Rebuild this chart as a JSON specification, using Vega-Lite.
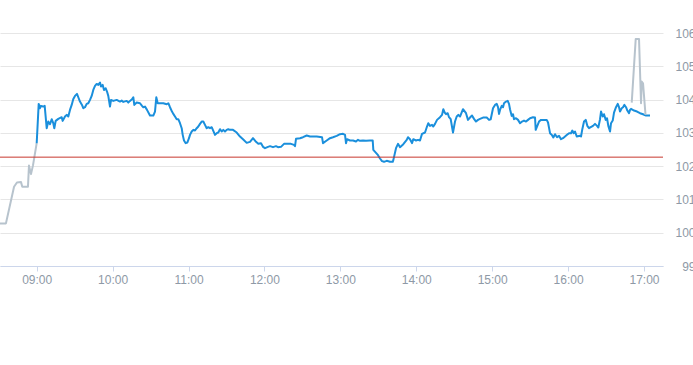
{
  "width": 663,
  "height": 233,
  "autosize": {"type": "none"},
  "padding": {"left": 0, "top": 33, "right": 30, "bottom": 99},
  "background": "#ffffff",
  "config": {"view": {"stroke": null}, "font": "Liberation Sans"},
  "datasets": {
    "prices": [
      {"t": "2024-01-02T08:31:00Z", "price": 100.28, "session": "pre"},
      {"t": "2024-01-02T08:35:42Z", "price": 100.28, "session": "pre"},
      {"t": "2024-01-02T08:42:06Z", "price": 101.38, "session": "pre"},
      {"t": "2024-01-02T08:44:24Z", "price": 101.51, "session": "pre"},
      {"t": "2024-01-02T08:47:36Z", "price": 101.52, "session": "pre"},
      {"t": "2024-01-02T08:48:36Z", "price": 101.38, "session": "pre"},
      {"t": "2024-01-02T08:53:06Z", "price": 101.38, "session": "pre"},
      {"t": "2024-01-02T08:53:54Z", "price": 102.02, "session": "pre"},
      {"t": "2024-01-02T08:55:30Z", "price": 101.76, "session": "pre"},
      {"t": "2024-01-02T08:57:06Z", "price": 102.03, "session": "pre"},
      {"t": "2024-01-02T09:00:00Z", "price": 102.69, "session": "pre"},
      {"t": "2024-01-02T09:00:00Z", "price": 102.69, "session": "regular"},
      {"t": "2024-01-02T09:01:35Z", "price": 103.87, "session": "regular"},
      {"t": "2024-01-02T09:02:37Z", "price": 103.74, "session": "regular"},
      {"t": "2024-01-02T09:03:24Z", "price": 103.81, "session": "regular"},
      {"t": "2024-01-02T09:04:59Z", "price": 103.79, "session": "regular"},
      {"t": "2024-01-02T09:06:19Z", "price": 103.81, "session": "regular"},
      {"t": "2024-01-02T09:07:54Z", "price": 103.14, "session": "regular"},
      {"t": "2024-01-02T09:09:10Z", "price": 103.34, "session": "regular"},
      {"t": "2024-01-02T09:10:31Z", "price": 103.26, "session": "regular"},
      {"t": "2024-01-02T09:11:51Z", "price": 103.41, "session": "regular"},
      {"t": "2024-01-02T09:13:07Z", "price": 103.29, "session": "regular"},
      {"t": "2024-01-02T09:13:55Z", "price": 103.14, "session": "regular"},
      {"t": "2024-01-02T09:15:01Z", "price": 103.36, "session": "regular"},
      {"t": "2024-01-02T09:17:04Z", "price": 103.42, "session": "regular"},
      {"t": "2024-01-02T09:19:46Z", "price": 103.47, "session": "regular"},
      {"t": "2024-01-02T09:20:33Z", "price": 103.36, "session": "regular"},
      {"t": "2024-01-02T09:22:22Z", "price": 103.49, "session": "regular"},
      {"t": "2024-01-02T09:23:43Z", "price": 103.54, "session": "regular"},
      {"t": "2024-01-02T09:24:59Z", "price": 103.49, "session": "regular"},
      {"t": "2024-01-02T09:26:19Z", "price": 103.69, "session": "regular"},
      {"t": "2024-01-02T09:27:40Z", "price": 103.84, "session": "regular"},
      {"t": "2024-01-02T09:28:56Z", "price": 104.02, "session": "regular"},
      {"t": "2024-01-02T09:30:16Z", "price": 104.11, "session": "regular"},
      {"t": "2024-01-02T09:31:51Z", "price": 104.17, "session": "regular"},
      {"t": "2024-01-02T09:32:53Z", "price": 104.07, "session": "regular"},
      {"t": "2024-01-02T09:34:13Z", "price": 103.94, "session": "regular"},
      {"t": "2024-01-02T09:35:48Z", "price": 103.84, "session": "regular"},
      {"t": "2024-01-02T09:36:50Z", "price": 103.74, "session": "regular"},
      {"t": "2024-01-02T09:38:11Z", "price": 103.77, "session": "regular"},
      {"t": "2024-01-02T09:39:31Z", "price": 103.87, "session": "regular"},
      {"t": "2024-01-02T09:40:47Z", "price": 103.89, "session": "regular"},
      {"t": "2024-01-02T09:42:08Z", "price": 103.99, "session": "regular"},
      {"t": "2024-01-02T09:43:28Z", "price": 104.11, "session": "regular"},
      {"t": "2024-01-02T09:44:44Z", "price": 104.29, "session": "regular"},
      {"t": "2024-01-02T09:46:05Z", "price": 104.41, "session": "regular"},
      {"t": "2024-01-02T09:47:25Z", "price": 104.47, "session": "regular"},
      {"t": "2024-01-02T09:48:41Z", "price": 104.44, "session": "regular"},
      {"t": "2024-01-02T09:50:02Z", "price": 104.51, "session": "regular"},
      {"t": "2024-01-02T09:50:49Z", "price": 104.39, "session": "regular"},
      {"t": "2024-01-02T09:52:10Z", "price": 104.44, "session": "regular"},
      {"t": "2024-01-02T09:53:12Z", "price": 104.29, "session": "regular"},
      {"t": "2024-01-02T09:54:32Z", "price": 104.34, "session": "regular"},
      {"t": "2024-01-02T09:55:34Z", "price": 104.24, "session": "regular"},
      {"t": "2024-01-02T09:56:35Z", "price": 104.11, "session": "regular"},
      {"t": "2024-01-02T09:57:56Z", "price": 103.79, "session": "regular"},
      {"t": "2024-01-02T09:58:44Z", "price": 103.99, "session": "regular"},
      {"t": "2024-01-02T10:00:33Z", "price": 103.96, "session": "regular"},
      {"t": "2024-01-02T10:03:14Z", "price": 103.99, "session": "regular"},
      {"t": "2024-01-02T10:05:50Z", "price": 103.94, "session": "regular"},
      {"t": "2024-01-02T10:07:11Z", "price": 103.97, "session": "regular"},
      {"t": "2024-01-02T10:08:27Z", "price": 103.93, "session": "regular"},
      {"t": "2024-01-02T10:11:08Z", "price": 103.96, "session": "regular"},
      {"t": "2024-01-02T10:12:24Z", "price": 103.91, "session": "regular"},
      {"t": "2024-01-02T10:13:45Z", "price": 103.96, "session": "regular"},
      {"t": "2024-01-02T10:15:19Z", "price": 104.01, "session": "regular"},
      {"t": "2024-01-02T10:16:21Z", "price": 104.07, "session": "regular"},
      {"t": "2024-01-02T10:17:08Z", "price": 103.84, "session": "regular"},
      {"t": "2024-01-02T10:19:02Z", "price": 103.91, "session": "regular"},
      {"t": "2024-01-02T10:21:39Z", "price": 103.89, "session": "regular"},
      {"t": "2024-01-02T10:23:14Z", "price": 103.81, "session": "regular"},
      {"t": "2024-01-02T10:24:15Z", "price": 103.77, "session": "regular"},
      {"t": "2024-01-02T10:25:36Z", "price": 103.79, "session": "regular"},
      {"t": "2024-01-02T10:27:11Z", "price": 103.69, "session": "regular"},
      {"t": "2024-01-02T10:29:33Z", "price": 103.52, "session": "regular"},
      {"t": "2024-01-02T10:32:10Z", "price": 103.52, "session": "regular"},
      {"t": "2024-01-02T10:33:30Z", "price": 103.64, "session": "regular"},
      {"t": "2024-01-02T10:34:32Z", "price": 104.07, "session": "regular"},
      {"t": "2024-01-02T10:35:38Z", "price": 103.89, "session": "regular"},
      {"t": "2024-01-02T10:37:27Z", "price": 103.89, "session": "regular"},
      {"t": "2024-01-02T10:40:04Z", "price": 103.89, "session": "regular"},
      {"t": "2024-01-02T10:42:45Z", "price": 103.86, "session": "regular"},
      {"t": "2024-01-02T10:44:01Z", "price": 103.89, "session": "regular"},
      {"t": "2024-01-02T10:45:21Z", "price": 103.77, "session": "regular"},
      {"t": "2024-01-02T10:46:56Z", "price": 103.64, "session": "regular"},
      {"t": "2024-01-02T10:47:58Z", "price": 103.57, "session": "regular"},
      {"t": "2024-01-02T10:49:19Z", "price": 103.49, "session": "regular"},
      {"t": "2024-01-02T10:50:39Z", "price": 103.41, "session": "regular"},
      {"t": "2024-01-02T10:51:55Z", "price": 103.41, "session": "regular"},
      {"t": "2024-01-02T10:53:16Z", "price": 103.29, "session": "regular"},
      {"t": "2024-01-02T10:54:36Z", "price": 103.14, "session": "regular"},
      {"t": "2024-01-02T10:55:24Z", "price": 102.94, "session": "regular"},
      {"t": "2024-01-02T10:56:25Z", "price": 102.77, "session": "regular"},
      {"t": "2024-01-02T10:57:46Z", "price": 102.69, "session": "regular"},
      {"t": "2024-01-02T10:59:02Z", "price": 102.71, "session": "regular"},
      {"t": "2024-01-02T11:00:23Z", "price": 102.84, "session": "regular"},
      {"t": "2024-01-02T11:01:10Z", "price": 102.94, "session": "regular"},
      {"t": "2024-01-02T11:02:31Z", "price": 103.04, "session": "regular"},
      {"t": "2024-01-02T11:03:47Z", "price": 103.09, "session": "regular"},
      {"t": "2024-01-02T11:05:07Z", "price": 103.07, "session": "regular"},
      {"t": "2024-01-02T11:06:28Z", "price": 103.14, "session": "regular"},
      {"t": "2024-01-02T11:07:44Z", "price": 103.19, "session": "regular"},
      {"t": "2024-01-02T11:09:04Z", "price": 103.27, "session": "regular"},
      {"t": "2024-01-02T11:10:25Z", "price": 103.34, "session": "regular"},
      {"t": "2024-01-02T11:11:41Z", "price": 103.34, "session": "regular"},
      {"t": "2024-01-02T11:13:01Z", "price": 103.24, "session": "regular"},
      {"t": "2024-01-02T11:14:22Z", "price": 103.14, "session": "regular"},
      {"t": "2024-01-02T11:15:38Z", "price": 103.17, "session": "regular"},
      {"t": "2024-01-02T11:16:59Z", "price": 103.14, "session": "regular"},
      {"t": "2024-01-02T11:18:19Z", "price": 103.17, "session": "regular"},
      {"t": "2024-01-02T11:19:35Z", "price": 103.06, "session": "regular"},
      {"t": "2024-01-02T11:20:56Z", "price": 102.94, "session": "regular"},
      {"t": "2024-01-02T11:22:16Z", "price": 102.99, "session": "regular"},
      {"t": "2024-01-02T11:23:32Z", "price": 103.01, "session": "regular"},
      {"t": "2024-01-02T11:24:53Z", "price": 103.11, "session": "regular"},
      {"t": "2024-01-02T11:26:13Z", "price": 103.04, "session": "regular"},
      {"t": "2024-01-02T11:27:29Z", "price": 103.09, "session": "regular"},
      {"t": "2024-01-02T11:28:50Z", "price": 103.04, "session": "regular"},
      {"t": "2024-01-02T11:30:10Z", "price": 103.09, "session": "regular"},
      {"t": "2024-01-02T11:31:26Z", "price": 103.11, "session": "regular"},
      {"t": "2024-01-02T11:32:47Z", "price": 103.09, "session": "regular"},
      {"t": "2024-01-02T11:35:09Z", "price": 103.09, "session": "regular"},
      {"t": "2024-01-02T11:38:05Z", "price": 103.01, "session": "regular"},
      {"t": "2024-01-02T11:40:41Z", "price": 102.89, "session": "regular"},
      {"t": "2024-01-02T11:43:04Z", "price": 102.81, "session": "regular"},
      {"t": "2024-01-02T11:45:59Z", "price": 102.70, "session": "regular"},
      {"t": "2024-01-02T11:48:35Z", "price": 102.73, "session": "regular"},
      {"t": "2024-01-02T11:50:58Z", "price": 102.84, "session": "regular"},
      {"t": "2024-01-02T11:53:20Z", "price": 102.73, "session": "regular"},
      {"t": "2024-01-02T11:55:09Z", "price": 102.67, "session": "regular"},
      {"t": "2024-01-02T11:57:17Z", "price": 102.69, "session": "regular"},
      {"t": "2024-01-02T11:58:52Z", "price": 102.58, "session": "regular"},
      {"t": "2024-01-02T12:00:27Z", "price": 102.54, "session": "regular"},
      {"t": "2024-01-02T12:02:49Z", "price": 102.58, "session": "regular"},
      {"t": "2024-01-02T12:04:24Z", "price": 102.60, "session": "regular"},
      {"t": "2024-01-02T12:06:46Z", "price": 102.57, "session": "regular"},
      {"t": "2024-01-02T12:09:08Z", "price": 102.60, "session": "regular"},
      {"t": "2024-01-02T12:10:43Z", "price": 102.57, "session": "regular"},
      {"t": "2024-01-02T12:13:05Z", "price": 102.58, "session": "regular"},
      {"t": "2024-01-02T12:15:28Z", "price": 102.67, "session": "regular"},
      {"t": "2024-01-02T12:17:50Z", "price": 102.67, "session": "regular"},
      {"t": "2024-01-02T12:20:59Z", "price": 102.67, "session": "regular"},
      {"t": "2024-01-02T12:23:22Z", "price": 102.64, "session": "regular"},
      {"t": "2024-01-02T12:24:10Z", "price": 102.60, "session": "regular"},
      {"t": "2024-01-02T12:24:57Z", "price": 102.82, "session": "regular"},
      {"t": "2024-01-02T12:28:07Z", "price": 102.84, "session": "regular"},
      {"t": "2024-01-02T12:30:29Z", "price": 102.87, "session": "regular"},
      {"t": "2024-01-02T12:33:24Z", "price": 102.92, "session": "regular"},
      {"t": "2024-01-02T12:36:01Z", "price": 102.89, "session": "regular"},
      {"t": "2024-01-02T12:41:19Z", "price": 102.89, "session": "regular"},
      {"t": "2024-01-02T12:45:30Z", "price": 102.87, "session": "regular"},
      {"t": "2024-01-02T12:46:17Z", "price": 102.69, "session": "regular"},
      {"t": "2024-01-02T12:49:13Z", "price": 102.77, "session": "regular"},
      {"t": "2024-01-02T12:51:49Z", "price": 102.84, "session": "regular"},
      {"t": "2024-01-02T12:54:11Z", "price": 102.87, "session": "regular"},
      {"t": "2024-01-02T12:57:07Z", "price": 102.91, "session": "regular"},
      {"t": "2024-01-02T12:59:44Z", "price": 102.96, "session": "regular"},
      {"t": "2024-01-02T13:02:06Z", "price": 102.97, "session": "regular"},
      {"t": "2024-01-02T13:03:41Z", "price": 102.94, "session": "regular"},
      {"t": "2024-01-02T13:04:28Z", "price": 102.69, "session": "regular"},
      {"t": "2024-01-02T13:05:16Z", "price": 102.81, "session": "regular"},
      {"t": "2024-01-02T13:07:38Z", "price": 102.77, "session": "regular"},
      {"t": "2024-01-02T13:10:00Z", "price": 102.77, "session": "regular"},
      {"t": "2024-01-02T13:12:22Z", "price": 102.74, "session": "regular"},
      {"t": "2024-01-02T13:13:57Z", "price": 102.79, "session": "regular"},
      {"t": "2024-01-02T13:15:32Z", "price": 102.76, "session": "regular"},
      {"t": "2024-01-02T13:17:54Z", "price": 102.77, "session": "regular"},
      {"t": "2024-01-02T13:20:16Z", "price": 102.76, "session": "regular"},
      {"t": "2024-01-02T13:23:26Z", "price": 102.77, "session": "regular"},
      {"t": "2024-01-02T13:25:34Z", "price": 102.77, "session": "regular"},
      {"t": "2024-01-02T13:26:03Z", "price": 102.49, "session": "regular"},
      {"t": "2024-01-02T13:28:11Z", "price": 102.40, "session": "regular"},
      {"t": "2024-01-02T13:29:46Z", "price": 102.33, "session": "regular"},
      {"t": "2024-01-02T13:31:20Z", "price": 102.23, "session": "regular"},
      {"t": "2024-01-02T13:32:55Z", "price": 102.15, "session": "regular"},
      {"t": "2024-01-02T13:34:30Z", "price": 102.13, "session": "regular"},
      {"t": "2024-01-02T13:36:38Z", "price": 102.16, "session": "regular"},
      {"t": "2024-01-02T13:39:15Z", "price": 102.13, "session": "regular"},
      {"t": "2024-01-02T13:41:23Z", "price": 102.13, "session": "regular"},
      {"t": "2024-01-02T13:41:51Z", "price": 102.18, "session": "regular"},
      {"t": "2024-01-02T13:43:59Z", "price": 102.54, "session": "regular"},
      {"t": "2024-01-02T13:45:34Z", "price": 102.67, "session": "regular"},
      {"t": "2024-01-02T13:47:09Z", "price": 102.57, "session": "regular"},
      {"t": "2024-01-02T13:49:46Z", "price": 102.66, "session": "regular"},
      {"t": "2024-01-02T13:52:27Z", "price": 102.79, "session": "regular"},
      {"t": "2024-01-02T13:53:28Z", "price": 102.87, "session": "regular"},
      {"t": "2024-01-02T13:55:03Z", "price": 102.81, "session": "regular"},
      {"t": "2024-01-02T13:56:38Z", "price": 102.69, "session": "regular"},
      {"t": "2024-01-02T13:57:40Z", "price": 102.81, "session": "regular"},
      {"t": "2024-01-02T13:59:48Z", "price": 102.77, "session": "regular"},
      {"t": "2024-01-02T14:01:23Z", "price": 102.79, "session": "regular"},
      {"t": "2024-01-02T14:02:57Z", "price": 102.77, "session": "regular"},
      {"t": "2024-01-02T14:04:32Z", "price": 102.97, "session": "regular"},
      {"t": "2024-01-02T14:06:55Z", "price": 103.01, "session": "regular"},
      {"t": "2024-01-02T14:08:29Z", "price": 103.19, "session": "regular"},
      {"t": "2024-01-02T14:09:31Z", "price": 103.29, "session": "regular"},
      {"t": "2024-01-02T14:10:52Z", "price": 103.21, "session": "regular"},
      {"t": "2024-01-02T14:12:27Z", "price": 103.24, "session": "regular"},
      {"t": "2024-01-02T14:13:28Z", "price": 103.19, "session": "regular"},
      {"t": "2024-01-02T14:14:49Z", "price": 103.27, "session": "regular"},
      {"t": "2024-01-02T14:16:24Z", "price": 103.39, "session": "regular"},
      {"t": "2024-01-02T14:18:46Z", "price": 103.47, "session": "regular"},
      {"t": "2024-01-02T14:20:21Z", "price": 103.54, "session": "regular"},
      {"t": "2024-01-02T14:21:22Z", "price": 103.71, "session": "regular"},
      {"t": "2024-01-02T14:22:29Z", "price": 103.61, "session": "regular"},
      {"t": "2024-01-02T14:23:31Z", "price": 103.56, "session": "regular"},
      {"t": "2024-01-02T14:24:51Z", "price": 103.59, "session": "regular"},
      {"t": "2024-01-02T14:25:53Z", "price": 103.47, "session": "regular"},
      {"t": "2024-01-02T14:27:13Z", "price": 103.41, "session": "regular"},
      {"t": "2024-01-02T14:29:02Z", "price": 103.01, "session": "regular"},
      {"t": "2024-01-02T14:30:37Z", "price": 103.34, "session": "regular"},
      {"t": "2024-01-02T14:31:58Z", "price": 103.49, "session": "regular"},
      {"t": "2024-01-02T14:33:14Z", "price": 103.54, "session": "regular"},
      {"t": "2024-01-02T14:34:34Z", "price": 103.49, "session": "regular"},
      {"t": "2024-01-02T14:36:56Z", "price": 103.71, "session": "regular"},
      {"t": "2024-01-02T14:39:19Z", "price": 103.59, "session": "regular"},
      {"t": "2024-01-02T14:40:53Z", "price": 103.39, "session": "regular"},
      {"t": "2024-01-02T14:42:28Z", "price": 103.46, "session": "regular"},
      {"t": "2024-01-02T14:44:03Z", "price": 103.52, "session": "regular"},
      {"t": "2024-01-02T14:45:38Z", "price": 103.42, "session": "regular"},
      {"t": "2024-01-02T14:47:13Z", "price": 103.34, "session": "regular"},
      {"t": "2024-01-02T14:48:48Z", "price": 103.39, "session": "regular"},
      {"t": "2024-01-02T14:50:23Z", "price": 103.42, "session": "regular"},
      {"t": "2024-01-02T14:52:45Z", "price": 103.46, "session": "regular"},
      {"t": "2024-01-02T14:55:41Z", "price": 103.46, "session": "regular"},
      {"t": "2024-01-02T14:57:30Z", "price": 103.39, "session": "regular"},
      {"t": "2024-01-02T14:58:50Z", "price": 103.41, "session": "regular"},
      {"t": "2024-01-02T15:00:39Z", "price": 103.74, "session": "regular"},
      {"t": "2024-01-02T15:02:14Z", "price": 103.84, "session": "regular"},
      {"t": "2024-01-02T15:03:35Z", "price": 103.87, "session": "regular"},
      {"t": "2024-01-02T15:04:37Z", "price": 103.77, "session": "regular"},
      {"t": "2024-01-02T15:05:24Z", "price": 103.57, "session": "regular"},
      {"t": "2024-01-02T15:06:11Z", "price": 103.69, "session": "regular"},
      {"t": "2024-01-02T15:07:32Z", "price": 103.81, "session": "regular"},
      {"t": "2024-01-02T15:08:34Z", "price": 103.77, "session": "regular"},
      {"t": "2024-01-02T15:09:21Z", "price": 103.89, "session": "regular"},
      {"t": "2024-01-02T15:10:56Z", "price": 103.94, "session": "regular"},
      {"t": "2024-01-02T15:12:16Z", "price": 103.96, "session": "regular"},
      {"t": "2024-01-02T15:13:18Z", "price": 103.87, "session": "regular"},
      {"t": "2024-01-02T15:14:05Z", "price": 103.71, "session": "regular"},
      {"t": "2024-01-02T15:15:26Z", "price": 103.51, "session": "regular"},
      {"t": "2024-01-02T15:16:28Z", "price": 103.56, "session": "regular"},
      {"t": "2024-01-02T15:17:15Z", "price": 103.41, "session": "regular"},
      {"t": "2024-01-02T15:18:50Z", "price": 103.44, "session": "regular"},
      {"t": "2024-01-02T15:20:25Z", "price": 103.39, "session": "regular"},
      {"t": "2024-01-02T15:22:00Z", "price": 103.29, "session": "regular"},
      {"t": "2024-01-02T15:23:35Z", "price": 103.34, "session": "regular"},
      {"t": "2024-01-02T15:25:09Z", "price": 103.37, "session": "regular"},
      {"t": "2024-01-02T15:26:44Z", "price": 103.34, "session": "regular"},
      {"t": "2024-01-02T15:28:19Z", "price": 103.39, "session": "regular"},
      {"t": "2024-01-02T15:29:54Z", "price": 103.44, "session": "regular"},
      {"t": "2024-01-02T15:32:16Z", "price": 103.47, "session": "regular"},
      {"t": "2024-01-02T15:33:51Z", "price": 103.46, "session": "regular"},
      {"t": "2024-01-02T15:34:24Z", "price": 103.09, "session": "regular"},
      {"t": "2024-01-02T15:35:40Z", "price": 103.21, "session": "regular"},
      {"t": "2024-01-02T15:37:01Z", "price": 103.34, "session": "regular"},
      {"t": "2024-01-02T15:38:36Z", "price": 103.39, "session": "regular"},
      {"t": "2024-01-02T15:43:06Z", "price": 103.39, "session": "regular"},
      {"t": "2024-01-02T15:44:08Z", "price": 103.31, "session": "regular"},
      {"t": "2024-01-02T15:45:43Z", "price": 102.99, "session": "regular"},
      {"t": "2024-01-02T15:47:03Z", "price": 102.94, "session": "regular"},
      {"t": "2024-01-02T15:48:19Z", "price": 102.86, "session": "regular"},
      {"t": "2024-01-02T15:49:40Z", "price": 102.96, "session": "regular"},
      {"t": "2024-01-02T15:51:15Z", "price": 102.87, "session": "regular"},
      {"t": "2024-01-02T15:52:49Z", "price": 102.91, "session": "regular"},
      {"t": "2024-01-02T15:54:24Z", "price": 102.81, "session": "regular"},
      {"t": "2024-01-02T15:55:59Z", "price": 102.84, "session": "regular"},
      {"t": "2024-01-02T15:57:34Z", "price": 102.89, "session": "regular"},
      {"t": "2024-01-02T15:59:09Z", "price": 102.94, "session": "regular"},
      {"t": "2024-01-02T16:00:44Z", "price": 102.99, "session": "regular"},
      {"t": "2024-01-02T16:02:19Z", "price": 102.99, "session": "regular"},
      {"t": "2024-01-02T16:03:20Z", "price": 103.07, "session": "regular"},
      {"t": "2024-01-02T16:04:27Z", "price": 102.99, "session": "regular"},
      {"t": "2024-01-02T16:05:28Z", "price": 103.04, "session": "regular"},
      {"t": "2024-01-02T16:06:49Z", "price": 102.89, "session": "regular"},
      {"t": "2024-01-02T16:09:25Z", "price": 102.91, "session": "regular"},
      {"t": "2024-01-02T16:10:13Z", "price": 102.89, "session": "regular"},
      {"t": "2024-01-02T16:11:14Z", "price": 103.11, "session": "regular"},
      {"t": "2024-01-02T16:12:35Z", "price": 103.34, "session": "regular"},
      {"t": "2024-01-02T16:13:56Z", "price": 103.39, "session": "regular"},
      {"t": "2024-01-02T16:15:11Z", "price": 103.21, "session": "regular"},
      {"t": "2024-01-02T16:16:32Z", "price": 103.14, "session": "regular"},
      {"t": "2024-01-02T16:17:53Z", "price": 103.17, "session": "regular"},
      {"t": "2024-01-02T16:19:41Z", "price": 103.21, "session": "regular"},
      {"t": "2024-01-02T16:21:16Z", "price": 103.27, "session": "regular"},
      {"t": "2024-01-02T16:22:52Z", "price": 103.21, "session": "regular"},
      {"t": "2024-01-02T16:23:53Z", "price": 103.16, "session": "regular"},
      {"t": "2024-01-02T16:25:14Z", "price": 103.41, "session": "regular"},
      {"t": "2024-01-02T16:26:01Z", "price": 103.64, "session": "regular"},
      {"t": "2024-01-02T16:27:22Z", "price": 103.49, "session": "regular"},
      {"t": "2024-01-02T16:28:23Z", "price": 103.56, "session": "regular"},
      {"t": "2024-01-02T16:29:44Z", "price": 103.39, "session": "regular"},
      {"t": "2024-01-02T16:30:46Z", "price": 103.44, "session": "regular"},
      {"t": "2024-01-02T16:31:47Z", "price": 103.21, "session": "regular"},
      {"t": "2024-01-02T16:33:08Z", "price": 103.04, "session": "regular"},
      {"t": "2024-01-02T16:33:55Z", "price": 103.29, "session": "regular"},
      {"t": "2024-01-02T16:35:16Z", "price": 103.37, "session": "regular"},
      {"t": "2024-01-02T16:36:17Z", "price": 103.61, "session": "regular"},
      {"t": "2024-01-02T16:37:52Z", "price": 103.77, "session": "regular"},
      {"t": "2024-01-02T16:39:13Z", "price": 103.87, "session": "regular"},
      {"t": "2024-01-02T16:40:15Z", "price": 103.77, "session": "regular"},
      {"t": "2024-01-02T16:41:02Z", "price": 103.64, "session": "regular"},
      {"t": "2024-01-02T16:42:23Z", "price": 103.74, "session": "regular"},
      {"t": "2024-01-02T16:43:24Z", "price": 103.77, "session": "regular"},
      {"t": "2024-01-02T16:44:26Z", "price": 103.84, "session": "regular"},
      {"t": "2024-01-02T16:45:47Z", "price": 103.77, "session": "regular"},
      {"t": "2024-01-02T16:46:48Z", "price": 103.67, "session": "regular"},
      {"t": "2024-01-02T16:48:09Z", "price": 103.59, "session": "regular"},
      {"t": "2024-01-02T16:48:56Z", "price": 103.69, "session": "regular"},
      {"t": "2024-01-02T16:49:44Z", "price": 103.72, "session": "regular"},
      {"t": "2024-01-02T16:52:06Z", "price": 103.67, "session": "regular"},
      {"t": "2024-01-02T16:54:28Z", "price": 103.64, "session": "regular"},
      {"t": "2024-01-02T16:56:50Z", "price": 103.59, "session": "regular"},
      {"t": "2024-01-02T16:59:13Z", "price": 103.56, "session": "regular"},
      {"t": "2024-01-02T17:01:35Z", "price": 103.52, "session": "regular"},
      {"t": "2024-01-02T17:04:44Z", "price": 103.52, "session": "regular"},
      {"t": "2024-01-02T16:50:17Z", "price": 103.91, "session": "post"},
      {"t": "2024-01-02T16:53:26Z", "price": 105.82, "session": "post"},
      {"t": "2024-01-02T16:56:03Z", "price": 105.82, "session": "post"},
      {"t": "2024-01-02T16:57:38Z", "price": 103.89, "session": "post"},
      {"t": "2024-01-02T16:58:11Z", "price": 104.54, "session": "post"},
      {"t": "2024-01-02T16:59:13Z", "price": 104.49, "session": "post"},
      {"t": "2024-01-02T17:01:11Z", "price": 103.54, "session": "post"}
    ],
    "reference": [{"previousClose": 102.27}]
  },
  "layer": [
    {
      "data": {"name": "prices"},
      "mark": {"type": "line", "strokeWidth": 2, "strokeJoin": "round"},
      "encoding": {
        "x": {
          "field": "t",
          "type": "temporal",
          "scale": {"type": "utc", "domain": [1704184260000, 1704215700000]},
          "axis": {
            "title": null,
            "format": "%H:%M",
            "values": [1704186000000, 1704189600000, 1704193200000, 1704196800000, 1704200400000, 1704204000000, 1704207600000, 1704211200000, 1704214800000],
            "grid": false,
            "domainColor": "#ccd6eb",
            "tickColor": "#ccd6eb",
            "tickSize": 5,
            "labelPadding": 3,
            "labelFontSize": 12,
            "labelColor": "#8e99a6",
            "labelFlush": false
          }
        },
        "y": {
          "field": "price",
          "type": "quantitative",
          "scale": {"domain": [99, 106], "nice": false, "zero": false},
          "axis": {
            "title": null,
            "orient": "right",
            "values": [99, 100, 101, 102, 103, 104, 105, 106],
            "tickCount": 8,
            "labelOverlap": false,
            "grid": true,
            "gridColor": "#e6e6e6",
            "domain": false,
            "ticks": false,
            "labelAlign": "right",
            "labelPadding": 32,
            "labelFontSize": 12,
            "labelColor": "#8e99a6"
          }
        },
        "color": {
          "field": "session",
          "type": "nominal",
          "scale": {"domain": ["pre", "regular", "post"], "range": ["#b7c3cd", "#1a8fdc", "#b7c3cd"]},
          "legend": null
        }
      }
    },
    {
      "data": {"name": "reference"},
      "mark": {"type": "rule", "color": "#c8372d", "strokeWidth": 1},
      "encoding": {
        "y": {
          "field": "previousClose",
          "type": "quantitative",
          "axis": {
            "title": null,
            "orient": "right",
            "values": [99, 100, 101, 102, 103, 104, 105, 106],
            "tickCount": 8,
            "labelOverlap": false,
            "grid": true,
            "gridColor": "#e6e6e6",
            "domain": false,
            "ticks": false,
            "labelAlign": "right",
            "labelPadding": 32,
            "labelFontSize": 12,
            "labelColor": "#8e99a6"
          }
        }
      }
    }
  ]
}
